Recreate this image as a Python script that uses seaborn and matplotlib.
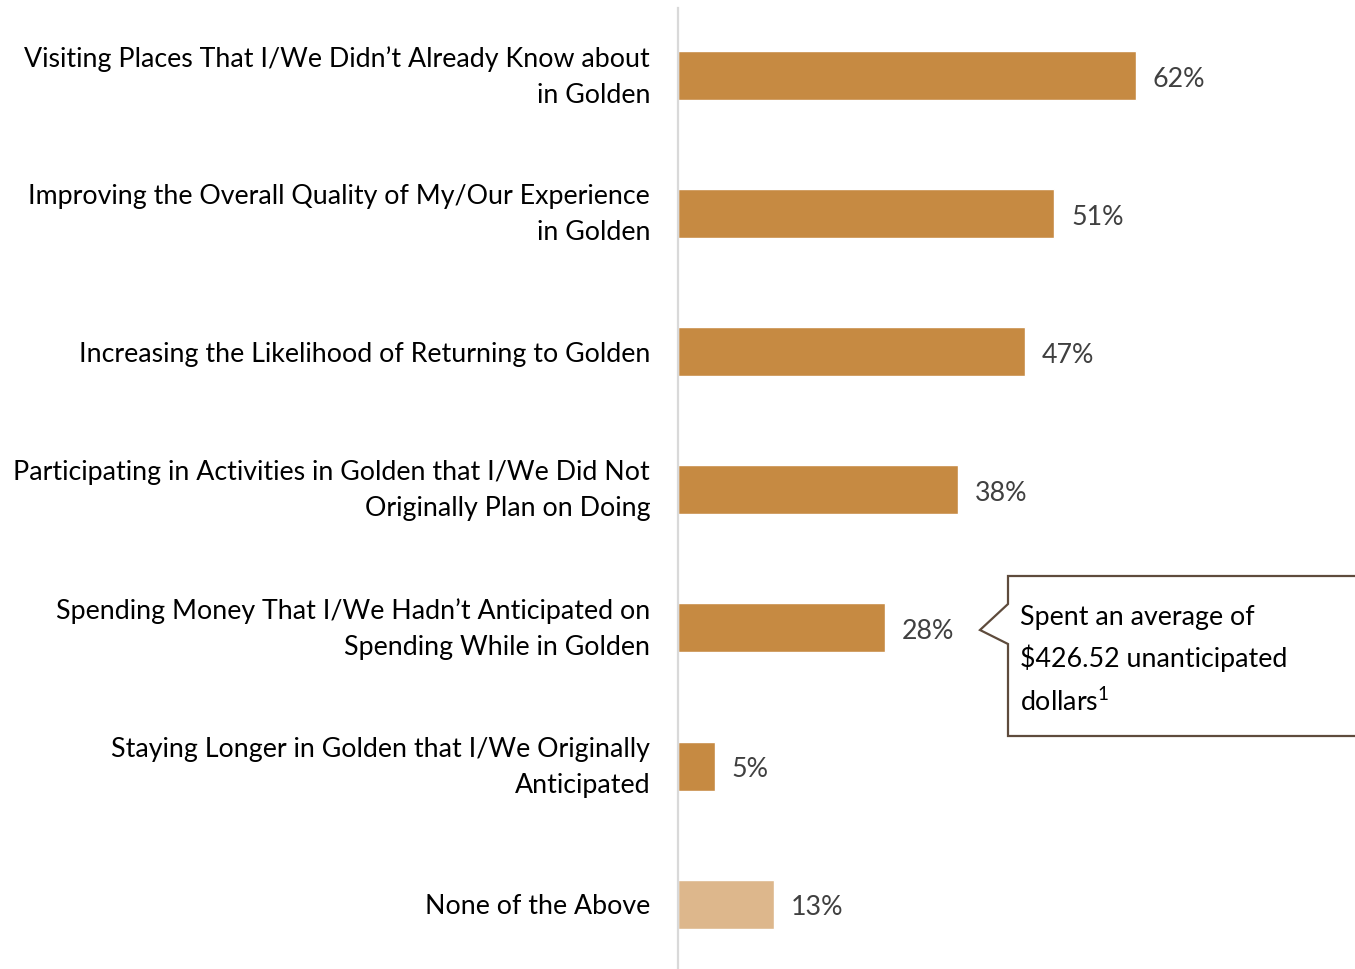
import matplotlib.pyplot as plt
import seaborn as sns
from matplotlib.patches import Polygon
from matplotlib.transforms import ScaledTranslation

categories = [
    "Visiting Places That I/We Didn\u2019t Already Know about\nin Golden",
    "Improving the Overall Quality of My/Our Experience\nin Golden",
    "Increasing the Likelihood of Returning to Golden",
    "Participating in Activities in Golden that I/We Did Not\nOriginally Plan on Doing",
    "Spending Money That I/We Hadn\u2019t Anticipated on\nSpending While in Golden",
    "Staying Longer in Golden that I/We Originally\nAnticipated",
    "None of the Above",
]
values = [62, 51, 47, 38, 28, 5, 13]
bar_colors = ["#C68A42"] * 6 + ["#DDB78C"]
callout_text = "Spent an average of\n$426.52 unanticipated\ndollars$^{\\mathregular{1}}$"

sns.set_style("white")
plt.rcParams["font.family"] = ["Lato", "DejaVu Sans"]
plt.rcParams["mathtext.fontset"] = "custom"
plt.rcParams["mathtext.rm"] = "Lato"

W, H = 1355, 969
FS = 19.3
fig = plt.figure(figsize=(W / 100, H / 100), dpi=100)
ax = fig.add_axes([678 / W, 0, 1 - 678 / W, 1 - 8 / H])

sns.barplot(x=values, y=categories, hue=categories, palette=bar_colors,
            legend=False, width=0.355, orient="h", ax=ax, saturation=1)

for c in ax.containers:
    for t in ax.bar_label(c, fmt="%.0f%%", padding=12, fontsize=FS, color="#404040"):
        t.xyann = (12, -2.5)  # nudge down a few px

ax.set_xlim(0, 677 / 7.38)
ax.set_ylim(6.47, -0.49)
ax.set_xlabel("")
ax.set_ylabel("")
ax.set_xticks([])
ax.tick_params(axis="y", length=0, pad=20, labelsize=FS)
for lbl in ax.get_yticklabels():
    lbl.set_linespacing(1.55)
    lbl.set_color("black")
    if "\n" in lbl.get_text():
        # two-line labels sit a bit higher in the original
        lbl.set_transform(lbl.get_transform() +
                          ScaledTranslation(0, 0.07, fig.dpi_scale_trans))
for s in ["top", "right", "bottom"]:
    ax.spines[s].set_visible(False)
ax.spines["left"].set_color("#D9D9D9")
ax.spines["left"].set_linewidth(1.6)

# callout box (figure pixel coords, y from top)
pts = [(1008, 576), (1360, 576), (1360, 736), (1008, 736), (1008, 644),
       (980, 630), (1008, 604)]
poly = Polygon([(x / W, 1 - y / H) for x, y in pts], closed=True,
               transform=fig.transFigure, facecolor="white",
               edgecolor="#5E4B3C", linewidth=1.6)
fig.patches.append(poly)
fig.text(1020 / W, 1 - 605 / H, callout_text, fontsize=FS, va="top",
         ha="left", linespacing=1.65, color="black")

fig.savefig("out.png", dpi=100)
